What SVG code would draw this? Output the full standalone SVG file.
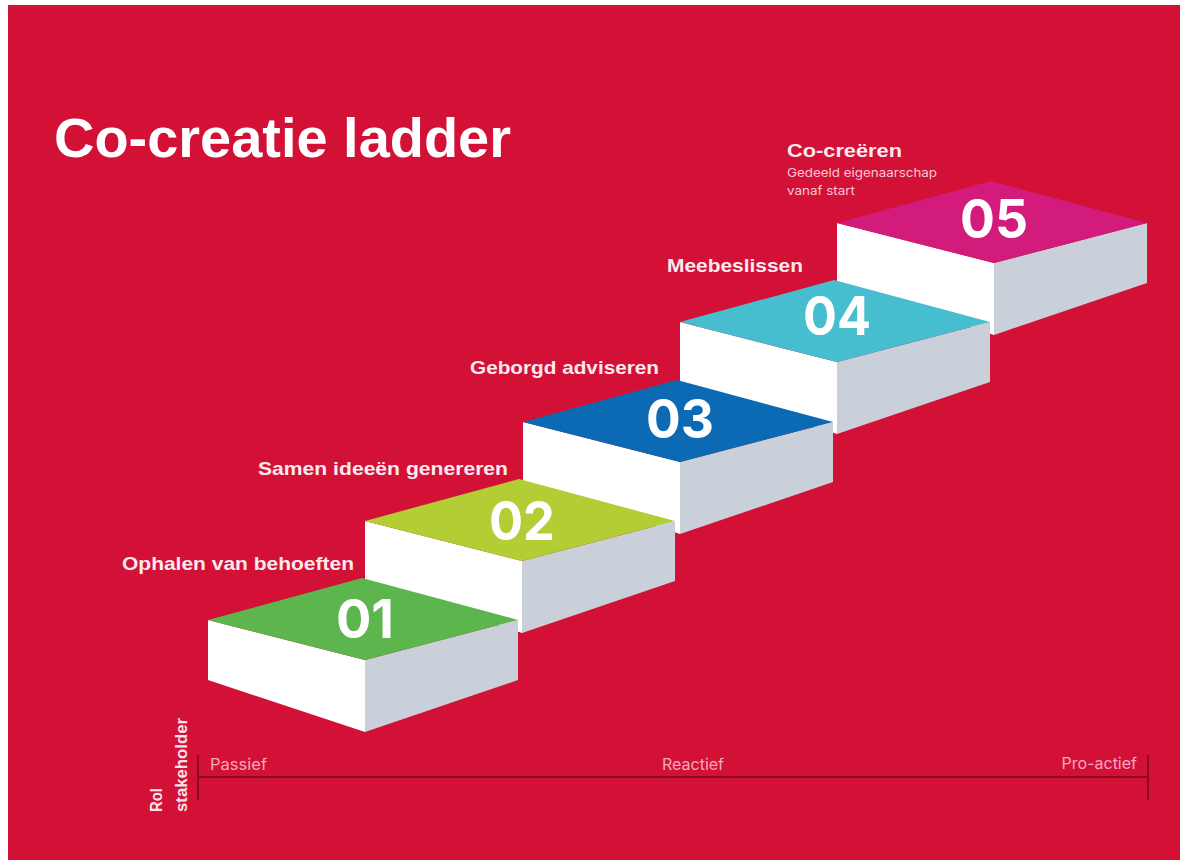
<svg xmlns="http://www.w3.org/2000/svg" width="1180" height="860" viewBox="0 0 1180 860">
  <style>
    .face-l { fill: #FFFFFF; }
    .face-r { fill: #C9D0D9; }
    .num { font-family: "Inter", "Liberation Sans", Arial, sans-serif; font-weight: bold; font-size: 54px; fill: #FFFFFF; text-anchor: middle; }
    .lbl { font-family: "Liberation Sans", Arial, sans-serif; font-weight: bold; font-size: 19px; fill: #FCEAEF; }
    .sub { font-family: "Inter", "Liberation Sans", sans-serif; font-size: 12px; fill: #F7C9D5; }
    .axis-t { font-family: "Inter", "Liberation Sans", sans-serif; font-size: 16px; fill: #F5AABD; }
    .axis { stroke: #8A0A22; stroke-width: 2; fill: none; }
    .rol { font-family: "Liberation Sans", Arial, sans-serif; font-weight: bold; font-size: 17px; fill: #FBE3EA; }
  </style>
  <defs>
    <g id="box">
      <polygon class="face-l" points="0,0 157,40 157,112 0,60"/>
      <polygon class="face-r" points="157,40 310,0 310,60 157,112"/>
    </g>
  </defs>

  <rect x="0" y="0" width="1180" height="860" fill="#FFFFFF"/>
  <rect x="8" y="5" width="1172" height="855" fill="#D31036"/>

  <text id="title" x="54" y="157" font-family="'Liberation Sans', Arial, sans-serif" font-weight="bold" font-size="56" fill="#FFFFFF" textLength="457" lengthAdjust="spacingAndGlyphs">Co-creatie ladder</text>

  <g id="step05" transform="translate(837,223)">
    <use href="#box"/>
    <polygon points="0,0 154,-42 310,0 157,40" fill="#D21B7A"/>
    <text class="num" x="157" y="15" textLength="68" lengthAdjust="spacingAndGlyphs">05</text>
  </g>
  <g id="step04" transform="translate(680,322)">
    <use href="#box"/>
    <polygon points="0,0 154,-42 310,0 157,40" fill="#46BED0"/>
    <text class="num" x="157" y="13" textLength="68" lengthAdjust="spacingAndGlyphs">04</text>
  </g>
  <g id="step03" transform="translate(523,422)">
    <use href="#box"/>
    <polygon points="0,0 154,-42 310,0 157,40" fill="#0B6AB3"/>
    <text class="num" x="157" y="16" textLength="68" lengthAdjust="spacingAndGlyphs">03</text>
  </g>
  <g id="step02" transform="translate(365,521)">
    <use href="#box"/>
    <polygon points="0,0 154,-42 310,0 157,40" fill="#B3CD34"/>
    <text class="num" x="157" y="19" textLength="66" lengthAdjust="spacingAndGlyphs">02</text>
  </g>
  <g id="step01" transform="translate(208,620)">
    <use href="#box"/>
    <polygon points="0,0 154,-42 310,0 157,40" fill="#5DB54E"/>
    <text class="num" x="157" y="18" textLength="58" lengthAdjust="spacingAndGlyphs">01</text>
  </g>

  <g id="labels">
    <text class="lbl" x="122" y="570" textLength="232" lengthAdjust="spacingAndGlyphs">Ophalen van behoeften</text>
    <text class="lbl" x="258" y="475" textLength="250" lengthAdjust="spacingAndGlyphs">Samen ideeën genereren</text>
    <text class="lbl" x="470" y="374" textLength="189" lengthAdjust="spacingAndGlyphs">Geborgd adviseren</text>
    <text class="lbl" x="667" y="272" textLength="136" lengthAdjust="spacingAndGlyphs">Meebeslissen</text>
    <text class="lbl" x="787" y="157" textLength="115" lengthAdjust="spacingAndGlyphs">Co-creëren</text>
    <text class="sub" x="787" y="177" textLength="150" lengthAdjust="spacingAndGlyphs">Gedeeld eigenaarschap</text>
    <text class="sub" x="787" y="195" textLength="68" lengthAdjust="spacingAndGlyphs">vanaf start</text>
  </g>

  <g id="axis">
    <line class="axis" x1="198" y1="777" x2="1148" y2="777"/>
    <line class="axis" x1="198" y1="755" x2="198" y2="800"/>
    <line class="axis" x1="1148" y1="755" x2="1148" y2="800"/>
    <text class="axis-t" x="210" y="770" textLength="57" lengthAdjust="spacingAndGlyphs">Passief</text>
    <text class="axis-t" x="693" y="770" text-anchor="middle">Reactief</text>
    <text class="axis-t" x="1137" y="769" text-anchor="end">Pro-actief</text>
    <text class="rol" transform="translate(162,812) rotate(-90)" textLength="24" lengthAdjust="spacingAndGlyphs">Rol</text>
    <text class="rol" transform="translate(187,812) rotate(-90)" textLength="94" lengthAdjust="spacingAndGlyphs">stakeholder</text>
  </g>
</svg>
